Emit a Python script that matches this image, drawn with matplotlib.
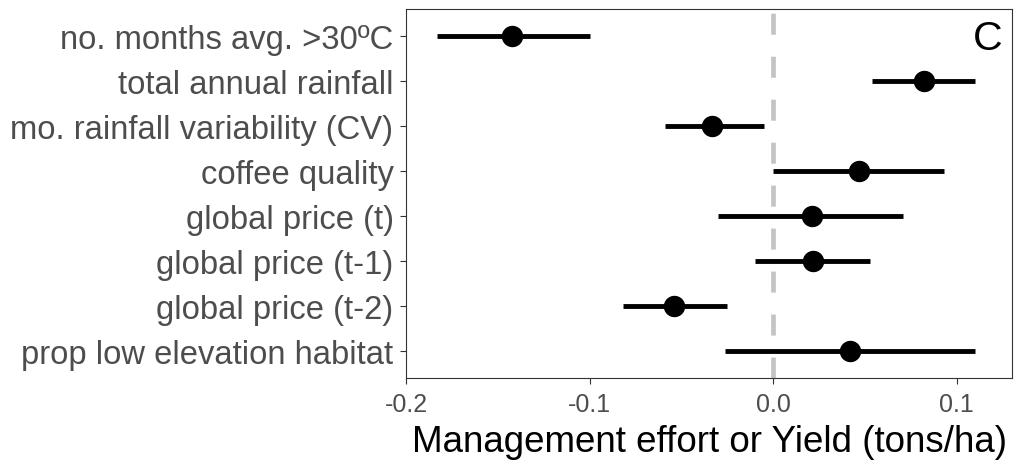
import numpy as np
import matplotlib
matplotlib.use("Agg")
import matplotlib.pyplot as plt

plt.rcParams["font.family"] = ["Liberation Sans", "DejaVu Sans"]

# predictors, top to bottom
labels = ["no. months avg. >30ºC", "total annual rainfall",
          "mo. rainfall variability (CV)", "coffee quality",
          "global price (t)", "global price (t-1)", "global price (t-2)",
          "prop low elevation habitat"]
est = [-0.142, 0.082, -0.033, 0.047, 0.021, 0.022, -0.054, 0.042]
lo = [-0.183, 0.054, -0.059, 0.000, -0.030, -0.010, -0.082, -0.026]
hi = [-0.100, 0.110, -0.005, 0.093, 0.071, 0.053, -0.025, 0.110]

grey20 = "#333333"
grey30 = "#4D4D4D"

fig = plt.figure(figsize=(10.14, 4.64), dpi=100)
ax = fig.add_axes([406/1014, 1-379/464, (1012-406)/1014, (379-10)/464])

ypos = np.arange(len(labels), 0, -1)
ymin, ymax = 0.4, 8.6

# zero reference line, drawn top-down so the dash pattern starts at the top
ax.plot([0, 0], [ymax, ymin], color="#C4C4C4", lw=3.4,
        ls=(8.2, (4.45, 4.65)), zorder=1, solid_capstyle="butt")
ax.hlines(ypos, lo, hi, color="black", lw=3.5, zorder=2)
ax.plot(est, ypos, "o", color="black", ms=14.4, zorder=3)

ax.set_xlim(-0.2, 0.1302)
ax.set_ylim(ymin, ymax)
ax.set_yticks(ypos)
ax.set_yticklabels(labels, fontsize=23.6, color=grey30)
ax.set_xticks([-0.2, -0.1, 0.0, 0.1])
ax.set_xticklabels(["-0.2", "-0.1", "0.0", "0.1"], fontsize=18, color=grey30)
ax.tick_params(axis="both", length=4.5, width=0.8, color=grey20)
ax.tick_params(axis="y", pad=4.5)
ax.tick_params(axis="x", pad=5.5)
for s in ax.spines.values():
    s.set_color(grey20)
    s.set_linewidth(0.8)

ax.set_xlabel("Management effort or Yield (tons/ha)", fontsize=26.5,
              color="black", labelpad=6)
ax.text(0.985, 0.922, "C", transform=ax.transAxes, fontsize=29.5,
        ha="right", va="center", color="black")

fig.savefig("out.png", dpi=100)
